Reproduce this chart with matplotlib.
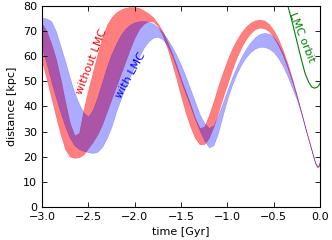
import matplotlib
matplotlib.use('Agg')
import matplotlib.pyplot as plt

# time grid [Gyr]
t = [-3.00, -2.95, -2.90, -2.85, -2.80, -2.75, -2.70, -2.65, -2.60, -2.55,
     -2.50, -2.45, -2.40, -2.35, -2.30, -2.25, -2.20, -2.15, -2.10, -2.05,
     -2.00, -1.95, -1.90, -1.85, -1.80, -1.75, -1.70, -1.65, -1.60, -1.55,
     -1.50, -1.45, -1.40, -1.35, -1.30, -1.25, -1.20, -1.15, -1.10, -1.05,
     -1.00, -0.95, -0.90, -0.85, -0.80, -0.75, -0.70, -0.65, -0.60, -0.55,
     -0.50, -0.45, -0.40, -0.35, -0.30, -0.25, -0.20, -0.15,
     -0.10, -0.07, -0.05, -0.03, -0.015, 0.0]

# without LMC band [kpc]
red_hi = [73, 70, 65, 59, 51, 42, 33.5, 28.5, 29.5, 39,
          47, 54, 61, 67.5, 72.5, 75.5, 77.5, 78.6, 79.3, 79.6,
          79.6, 79.2, 78.2, 77, 75.5, 73, 70, 66, 61.5, 56.5,
          51, 46, 41, 35.5, 31.5, 32, 36.5, 42, 48, 53.5,
          58.5, 63, 66.5, 69.5, 71.8, 73.4, 74.3, 74.6, 74.2, 72.8,
          70.3, 66.8, 62.3, 57, 51, 44.5, 37.5, 30.5,
          24, 20, 17.6, 16.4, 16.6, 18.6]
red_lo = [58, 51, 43.5, 36, 29, 23, 20, 19.6, 19.8, 21,
          23.5, 26, 29, 33, 38, 43, 48, 53, 58, 63,
          67.5, 71, 73, 74, 73.8, 72, 68.5, 63.5, 57.5, 51,
          44, 37.5, 32, 27.5, 25, 25, 27.5, 32, 37.5, 43.5,
          49, 54.5, 59.5, 63.5, 66.8, 69.2, 70.8, 71.4, 71.1, 69.9,
          67.5, 64.3, 60.2, 55.3, 49.8, 43.7, 37, 30,
          23.5, 19.5, 17.1, 15.9, 16.1, 18.1]

# with LMC band [kpc]
blue_hi = [75.5, 75, 74, 70, 64, 58, 51.5, 45.5, 41, 37.5,
           36, 39, 44, 50, 56, 61, 65, 68.5, 71, 72.6,
           73.5, 74, 74, 73.8, 73, 71.5, 69.5, 67, 64, 60.5,
           56.5, 52, 47, 42, 37, 33.5, 31.5, 32.5, 36.5, 41.5,
           46.5, 51.5, 55.8, 59.7, 63, 65.6, 67.6, 68.9, 69.3, 69,
           67.6, 64.8, 61, 56, 50.3, 44, 37.3, 30.4,
           23.9, 19.9, 17.5, 16.3, 16.5, 18.5]
blue_lo = [63, 57, 50, 43.5, 37.5, 32, 27.5, 24.5, 23, 22.3,
           21.8, 21.5, 22, 24, 27.5, 32, 38, 43, 48, 52,
           56, 60, 63.5, 66, 67.4, 67.7, 66.8, 64.5, 60.5, 55.5,
           50, 45, 40, 35, 30.5, 26.5, 23.8, 24.5, 29.5, 36.5,
           43, 48.5, 53, 56.7, 59.6, 61.7, 63.1, 63.7, 63.7, 63,
           61.6, 59.2, 56, 52, 47.3, 42.6, 36.8, 30,
           23.5, 19.5, 17.1, 15.9, 16.1, 18.1]

# LMC orbit
lmc_t = [-0.35, -0.30, -0.25, -0.20, -0.16, -0.12, -0.09, -0.06, -0.03, -0.01, 0.0]
lmc_d = [80.5, 73.5, 66, 58.5, 53, 49.5, 47.8, 47.3, 47.7, 48.6, 49.2]

plt.rcParams['font.size'] = 8

fig = plt.figure(figsize=(3.32, 2.4), dpi=100)
ax = fig.add_axes([0.1265, 0.1375, 0.8375, 0.8375])

ax.fill_between(t, red_lo, red_hi, color='red', alpha=0.5, lw=0.3)
ax.fill_between(t, blue_lo, blue_hi, color='blue', alpha=0.33, lw=0.3)
ax.plot(lmc_t, lmc_d, color='green', lw=0.8)

ax.text(-2.47, 58, 'without LMC', color='red', rotation=69,
        ha='center', va='center')
ax.text(-2.04, 52.6, 'with LMC', color='blue', rotation=61,
        ha='center', va='center')
ax.text(-0.195, 67.5, 'LMC orbit', color='green', rotation=-68,
        ha='center', va='center')

ax.set_xlim(-3.0, 0.0)
ax.set_ylim(0, 80)
ax.set_xticks([-3.0, -2.5, -2.0, -1.5, -1.0, -0.5, 0.0])
ax.set_yticks([0, 10, 20, 30, 40, 50, 60, 70, 80])
ax.tick_params(direction='in', top=True, right=True, length=3.5, width=0.6)
for s in ax.spines.values():
    s.set_linewidth(0.8)
ax.set_xlabel('time [Gyr]')
ax.set_ylabel('distance [kpc]')

fig.savefig('out.png', dpi=100)
